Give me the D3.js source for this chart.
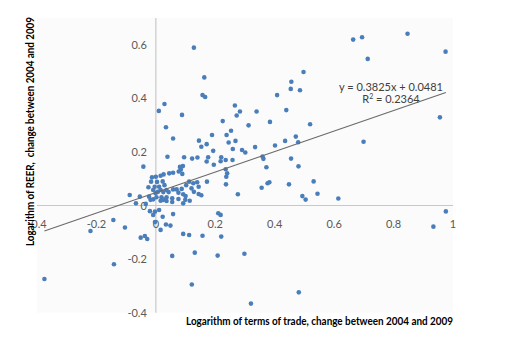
<!DOCTYPE html>
<html>
<head>
<meta charset="utf-8">
<script src="https://cdn.jsdelivr.net/npm/d3@7/dist/d3.min.js"></script>
<style>
  body { margin: 0; background: #fff; }
  svg { display: block; font-family: Lato, "Open Sans", sans-serif; }
</style>
</head>
<body>
<div id="scatter_chart"></div>
<script>
// terms of trade change (x) and REER change (y)
var totChange = [
  -0.375, -0.220, -0.143, -0.141, -0.104, -0.088, -0.067, -0.054, -0.034, -0.051, -0.037, -0.029, -0.042,
  -0.025, -0.023, -0.018, -0.016, -0.013, -0.009, -0.009, -0.004, -0.001, 0.000, 0.002, 0.004, 0.007,
  0.011, 0.016, 0.016, 0.019, 0.016, 0.023, 0.025, 0.025, 0.026, 0.029, 0.036, 0.036, 0.036, 0.039,
  0.043, 0.045, 0.055, 0.055, 0.058, 0.058, 0.070, 0.076, 0.076, 0.077, 0.084, 0.087, 0.081, 0.091,
  0.089, 0.092, 0.092, 0.099, 0.102, 0.112, 0.114, 0.120, 0.126, 0.128, 0.139, 0.144, 0.144, 0.153, 0.100,
  -0.020, -0.003, 0.011, -0.009, 0.023, 0.058, -0.003, 0.034, 0.049, 0.016, 0.092, 0.112, 0.055, 0.131,
  0.128, 0.157, 0.166, 0.163, 0.010, 0.029, 0.034, 0.088, 0.058, 0.145, 0.153, 0.171, 0.189, 0.193,
  0.225, 0.238, 0.266, 0.272, 0.283, 0.253, 0.245, 0.268, 0.259, 0.290, 0.301, 0.312, 0.334, 0.339,
  0.384, 0.401, 0.408, 0.095, 0.122, 0.140, 0.176, 0.171, 0.195, 0.220, 0.218, 0.235, 0.258, 0.359,
  0.362, 0.372, 0.235, 0.240, 0.237,
  0.172, 0.210, 0.218, 0.157, 0.220, 0.208, 0.298, 0.121, 0.320, 0.276, 0.236,
  0.356, 0.376, 0.382, 0.448, 0.531, 0.493, 0.504, 0.544, 0.614, 0.976, 0.934, 0.481, 0.664, 0.694,
  0.713, 0.847, 0.975, 0.497, 0.456, 0.454, 0.485, 0.439, 0.519, 0.956, 0.699, 0.471, 0.479, 0.435,
  0.455, 0.480
];
var reerChange = [
  -0.274, -0.095, -0.054, -0.219, -0.082, 0.039, 0.008, 0.033, 0.006, -0.120, -0.114, -0.125, 0.145,
  0.068, 0.033, 0.021, 0.089, 0.105, 0.058, 0.023, 0.070, 0.046, 0.107, 0.031, 0.088, 0.051,
  0.070, 0.111, 0.058, 0.031, 0.018, 0.090, 0.050, 0.021, 0.116, 0.076, 0.058, 0.031, 0.017, 0.182,
  0.050, 0.120, 0.027, 0.013, 0.122, 0.060, 0.060, 0.048, 0.024, 0.127, 0.134, 0.062, 0.144, 0.147,
  0.118, 0.042, 0.008, 0.021, 0.076, 0.089, 0.018, 0.064, 0.083, 0.051, 0.087, 0.043, 0.070, 0.038, 0.035,
  -0.021, -0.023, -0.017, -0.035, -0.042, -0.032, -0.062, -0.071, -0.075, -0.091, -0.106, -0.110, -0.188, -0.176,
  0.589, 0.412, 0.405, 0.478, 0.353, 0.379, 0.292, 0.338, 0.250, 0.242, 0.219, 0.229, 0.263, 0.204,
  0.315, 0.263, 0.373, 0.336, 0.351, 0.279, 0.235, 0.241, 0.211, 0.207, 0.198, 0.299, 0.218, 0.351,
  0.312, 0.224, 0.412, 0.180, 0.175, 0.179, 0.180, 0.164, 0.152, 0.180, 0.165, 0.170, 0.170, 0.183,
  0.174, 0.143, 0.135, 0.120, 0.107,
  0.089, -0.029, -0.035, -0.113, -0.116, -0.187, -0.180, -0.295, -0.366, 0.042, 0.079,
  0.066, 0.083, 0.087, 0.079, 0.090, 0.035, 0.022, 0.044, 0.026, -0.022, -0.079, -0.324, 0.619, 0.628,
  0.547, 0.641, 0.574, 0.498, 0.462, 0.435, 0.430, 0.356, 0.303, 0.329, 0.238, 0.257, 0.236, 0.241,
  0.175, 0.146
];
var xTicks = [-0.4, -0.2, 0, 0.2, 0.4, 0.6, 0.8, 1];
var yTicks = [-0.4, -0.2, 0, 0.2, 0.4, 0.6];
var trendSlope = 0.3825;
var trendIntercept = 0.0481;
var trendR2 = 0.2364;

var w = 507, h = 354;
var svg = d3.select("#scatter_chart")
  .append("svg")
  .attr("width", w)
  .attr("height", h);

var x = d3.scaleLinear().domain([-0.4, 1]).range([37, 453]);
var y = d3.scaleLinear().domain([-0.4, 0.7]).range([312.7, 17.9]);

var fmt = function (d) { return String(d); };

// plot area
svg.append("rect")
  .attr("x", x(-0.4)).attr("y", y(0.7))
  .attr("width", x(1) - x(-0.4)).attr("height", y(-0.4) - y(0.7))
  .attr("fill", "#fbfbfb");

// axes cross at zero
svg.append("line")
  .attr("x1", x(-0.4)).attr("x2", x(1))
  .attr("y1", y(0)).attr("y2", y(0))
  .attr("stroke", "#c8c8c8").attr("stroke-width", 1.2);
svg.append("line")
  .attr("x1", x(0)).attr("x2", x(0))
  .attr("y1", y(0.7)).attr("y2", y(-0.4))
  .attr("stroke", "#c8c8c8").attr("stroke-width", 1.2);

svg.selectAll("text.xtick")
  .data(xTicks)
  .enter().append("text")
  .attr("class", "xtick")
  .attr("x", function (d) { return x(d); })
  .attr("y", y(0) + 22)
  .attr("text-anchor", "middle")
  .attr("font-size", 11)
  .attr("fill", "#595959")
  .text(fmt);

svg.selectAll("text.ytick")
  .data(yTicks)
  .enter().append("text")
  .attr("class", "ytick")
  .attr("x", x(0) - 9)
  .attr("y", function (d) { return y(d) + 4; })
  .attr("text-anchor", "end")
  .attr("font-size", 11)
  .attr("fill", "#595959")
  .text(fmt);

// points
var pts = totChange.map(function (v, i) { return [v, reerChange[i]]; });
svg.selectAll("circle.pt")
  .data(pts)
  .enter().append("circle")
  .attr("class", "pt")
  .attr("cx", function (d) { return x(d[0]); })
  .attr("cy", function (d) { return y(d[1]); })
  .attr("r", 2.3)
  .attr("fill", "#4a7ebb");

// linear trendline over the x range of the data
var xExt = d3.extent(totChange);
svg.append("line")
  .attr("x1", x(xExt[0])).attr("y1", y(trendSlope * xExt[0] + trendIntercept))
  .attr("x2", x(xExt[1])).attr("y2", y(trendSlope * xExt[1] + trendIntercept))
  .attr("stroke", "#6a6a6a").attr("stroke-width", 1.1);

svg.append("text")
  .attr("x", 391).attr("y", 91)
  .attr("text-anchor", "middle")
  .attr("font-size", 11)
  .attr("fill", "#404040")
  .text("y = " + trendSlope + "x + " + trendIntercept);
var r2 = svg.append("text")
  .attr("x", 391).attr("y", 103)
  .attr("text-anchor", "middle")
  .attr("font-size", 11)
  .attr("fill", "#404040");
r2.append("tspan").text("R");
r2.append("tspan").attr("font-size", 7).attr("dy", -4).text("2");
r2.append("tspan").attr("dy", 4).text(" = " + trendR2);

// axis titles
svg.append("text")
  .attr("x", 319.5).attr("y", 325)
  .attr("text-anchor", "middle")
  .attr("font-size", 11)
  .attr("font-weight", "bold")
  .attr("fill", "#000")
  .attr("textLength", 267)
  .attr("lengthAdjust", "spacingAndGlyphs")
  .text("Logarithm of terms of trade, change between 2004 and 2009");

svg.append("text")
  .attr("transform", "translate(34,131.5) rotate(-90)")
  .attr("text-anchor", "middle")
  .attr("font-size", 11)
  .attr("font-weight", "bold")
  .attr("fill", "#000")
  .attr("textLength", 229)
  .attr("lengthAdjust", "spacingAndGlyphs")
  .attr("xml:space", "preserve")
  .text("Logarithm of REER,  change between 2004 and 2009");
</script>
</body>
</html>
